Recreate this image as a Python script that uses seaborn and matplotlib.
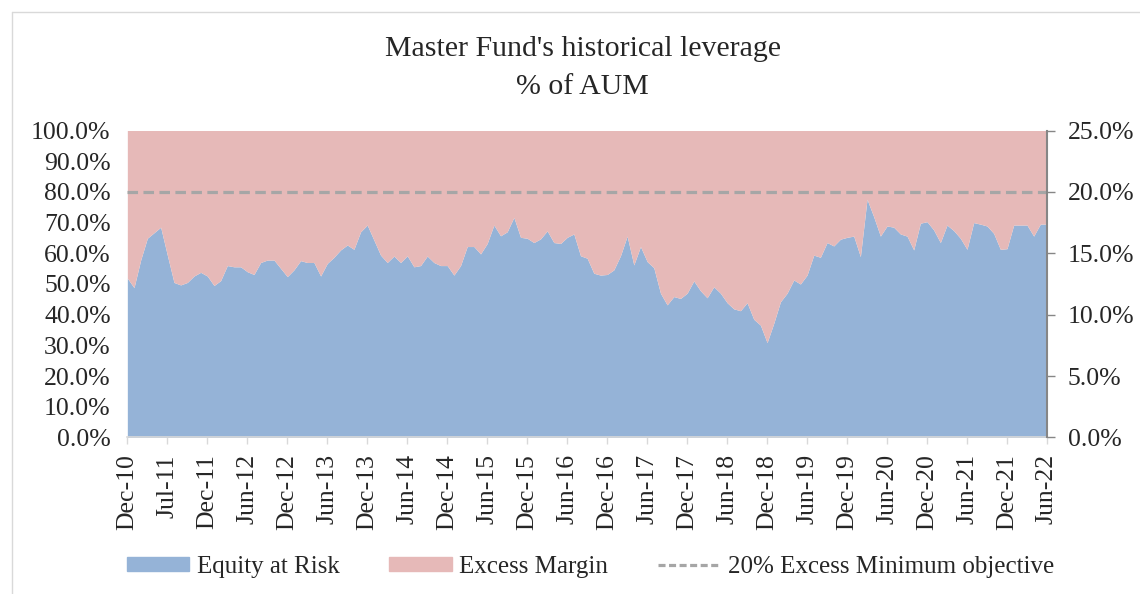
import pandas as pd
import numpy as np
import matplotlib.pyplot as plt
import matplotlib.lines as mlines
import seaborn as sns

sns.set_style("white")
plt.rcParams['font.family'] = ['Liberation Serif', 'DejaVu Serif']

# month-end readings, Dec-10 .. Jun-22 (139 months), % of AUM
equity_at_risk = [
    51.9, 48.8, 57.8, 64.9, 66.7, 68.5, 59.4, 50.5, 49.7, 50.5, 52.6, 53.8,
    52.6, 49.5, 51.1, 56.0, 55.6, 55.6, 54.0, 53.1, 57.0, 57.8, 57.8, 55.1,
    52.4, 54.6, 57.6, 57.0, 57.0, 52.6, 56.7, 58.7, 61.1, 62.7, 61.3, 67.0,
    69.2, 64.3, 59.4, 57.0, 59.1, 57.0, 59.2, 55.6, 56.0, 59.1, 57.0, 56.0,
    56.0, 52.9, 56.0, 62.2, 62.2, 59.8, 63.2, 69.2, 65.7, 67.0, 71.7, 65.2,
    64.9, 63.5, 64.7, 67.3, 63.5, 63.2, 65.2, 66.3, 59.2, 58.4, 53.5, 52.9,
    53.1, 54.6, 59.2, 65.6, 56.2, 62.2, 57.3, 55.3, 47.0, 43.2, 45.9, 45.3,
    47.0, 51.0, 47.8, 45.5, 49.1, 47.0, 43.9, 41.9, 41.3, 43.9, 38.5, 36.6,
    30.9, 37.2, 44.2, 47.0, 51.3, 50.0, 52.9, 59.4, 58.7, 63.5, 62.4, 64.6,
    65.2, 65.6, 58.9, 77.6, 71.9, 65.6, 68.9, 68.5, 66.3, 65.6, 61.1, 69.8,
    70.3, 67.6, 63.5, 69.2, 67.4, 64.9, 61.3, 70.0, 69.5, 68.9, 66.5, 61.3,
    61.5, 69.2, 69.2, 69.2, 65.6, 69.5, 69.5,
]
# excess margin is the rest of AUM
excess_margin = [100.0 - v for v in equity_at_risk]

tick_labels = ['Dec-10', 'Jul-11', 'Dec-11', 'Jun-12', 'Dec-12', 'Jun-13',
               'Dec-13', 'Jun-14', 'Dec-14', 'Jun-15', 'Dec-15', 'Jun-16',
               'Dec-16', 'Jun-17', 'Dec-17', 'Jun-18', 'Dec-18', 'Jun-19',
               'Dec-19', 'Jun-20', 'Dec-20', 'Jun-21', 'Dec-21', 'Jun-22']
objective = 20.0  # % excess minimum, right axis

df = pd.DataFrame({'month': np.arange(len(equity_at_risk)),
                   'equity': equity_at_risk,
                   'excess': excess_margin})

blue = '#95b3d7'
pink = '#e6b9b8'
grey = '#a6a6a6'

fig = plt.figure(figsize=(11.4, 5.94), dpi=100)
ax = fig.add_axes([0.1117, 0.2635, 0.8067, 0.5168])

ax.stackplot(df['month'], df['equity'], df['excess'], colors=[blue, pink],
             labels=['Equity at Risk', 'Excess Margin'], linewidth=0)
ax.set_xlim(0, len(df) - 1)
ax.set_ylim(0, 100)
ax.set_yticks(np.arange(0, 101, 10))
ax.set_yticklabels([f'{v:.1f}%' for v in np.arange(0, 101, 10)])
ax.set_xticks(np.arange(0, len(df), 6))
ax.set_xticklabels(tick_labels, rotation=90)
ax.tick_params(axis='y', length=0, pad=12, labelsize=18.5)
ax.tick_params(axis='x', length=5, width=1, color='#d9d9d9', pad=7,
               labelsize=18.5, direction='out', bottom=True)
for s in ['top', 'right', 'left']:
    ax.spines[s].set_visible(False)
ax.spines['bottom'].set_color('#d9d9d9')
ax.spines['bottom'].set_linewidth(1.2)

ax2 = ax.twinx()
ax2.axhline(objective, color=grey, linestyle=(0, (3.3, 1.7)), linewidth=2.3,
            label='20% Excess Minimum objective')
ax2.set_ylim(0, 25)
ax2.set_yticks(np.arange(0, 26, 5))
ax2.set_yticklabels([f'{v:.1f}%' for v in np.arange(0, 26, 5)])
ax2.tick_params(axis='y', length=6, width=1, color='#868686', pad=9,
                labelsize=18.5, direction='out', right=True)
for s in ['top', 'left', 'bottom']:
    ax2.spines[s].set_visible(False)
ax2.spines['right'].set_color('#868686')
ax2.spines['right'].set_linewidth(1.5)

fig.text(0.511, 0.8855, "Master Fund's historical leverage\n% of AUM",
         ha='center', va='center', fontsize=21.5, linespacing=1.6)

handles = [plt.Rectangle((0, 0), 1, 1, color=blue),
           plt.Rectangle((0, 0), 1, 1, color=pink),
           mlines.Line2D([], [], color=grey, linestyle=(0, (2.2, 1.1)), linewidth=2.3)]
fig.legend(handles, ['Equity at Risk', 'Excess Margin', '20% Excess Minimum objective'],
           loc='center', bbox_to_anchor=(0.518, 0.046), ncol=3, frameon=False,
           fontsize=18, handlelength=2.5, handleheight=0.5, handletextpad=0.3,
           columnspacing=2.0)

# outer chart border
fig.add_artist(mlines.Line2D([12 / 1140, 1.0], [1 - 11.5 / 594, 1 - 11.5 / 594],
                             color='#d9d9d9', linewidth=1, transform=fig.transFigure))
fig.add_artist(mlines.Line2D([12 / 1140, 12 / 1140], [0, 1 - 11.5 / 594],
                             color='#d9d9d9', linewidth=1, transform=fig.transFigure))

fig.savefig('out.png', dpi=100)
